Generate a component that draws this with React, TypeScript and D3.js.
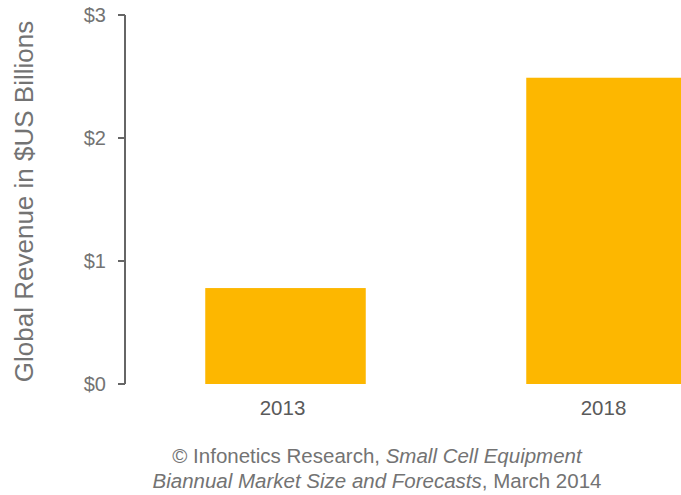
import React from "react";
import * as d3 from "d3";

const years = ["2013", "2018"];
const revenue = [0.78, 2.49];
const yTicks = [0, 1, 2, 3];
const yTickLabels = ["$0", "$1", "$2", "$3"];
const yTitle = "Global Revenue in $US Billions";

const W = 681;
const H = 495;
const FONT = "'Liberation Sans', Arial, Helvetica, sans-serif";
const BAR = "#FDB700";
const TEXT = "#737373";
const AXIS = "#666";

export default function App() {
  const x = d3
    .scaleBand<string>()
    .domain(years)
    .range([125, 767])
    .paddingInner(0.5)
    .paddingOuter(0.25);
  const y = d3.scaleLinear().domain([0, 3]).range([384, 15]);
  const axisX = 125;

  return (
    <svg
      width={W}
      height={H}
      style={{ position: "absolute", left: 0, top: 0, background: "#fff" }}
      fontFamily={FONT}
    >
      <rect width={W} height={H} fill="#fff" />
      {years.map((yr, i) => (
        <rect
          key={yr}
          x={x(yr)}
          y={y(revenue[i])}
          width={x.bandwidth()}
          height={y(0) - y(revenue[i])}
          fill={BAR}
        />
      ))}
      <line x1={axisX} x2={axisX} y1={y(3)} y2={y(0)} stroke={AXIS} strokeWidth={2} />
      {yTicks.map((t, i) => (
        <g key={t}>
          <line x1={axisX - 7} x2={axisX} y1={y(t)} y2={y(t)} stroke={AXIS} strokeWidth={2} />
          <text
            x={axisX - 19}
            y={y(t)}
            dy="0.36em"
            textAnchor="end"
            fontSize={20}
            fill={TEXT}
          >
            {yTickLabels[i]}
          </text>
        </g>
      ))}
      {years.map((yr) => (
        <text
          key={yr}
          x={(x(yr) as number) + x.bandwidth() / 2 - 3}
          y={415}
          textAnchor="middle"
          fontSize={20.5}
          fill="#5a5a5a"
        >
          {yr}
        </text>
      ))}
      <text
        transform={`translate(33, ${(y(0) + y(3)) / 2 + 2}) rotate(-90)`}
        textAnchor="middle"
        fontSize={26}
        fill={TEXT}
      >
        {yTitle}
      </text>
      <text x={377} y={463} textAnchor="middle" fontSize={20.5} fill={TEXT}>
        <tspan>© Infonetics Research, </tspan>
        <tspan fontStyle="italic">Small Cell Equipment</tspan>
      </text>
      <text x={377} y={488} textAnchor="middle" fontSize={20.5} fill={TEXT}>
        <tspan fontStyle="italic">Biannual Market Size and Forecasts</tspan>
        <tspan>, March 2014</tspan>
      </text>
    </svg>
  );
}
